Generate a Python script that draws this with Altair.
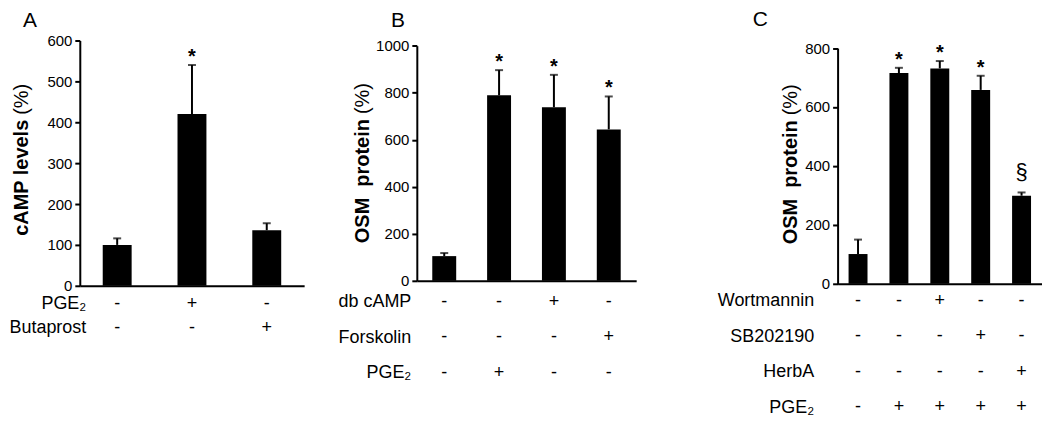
import altair as alt
import pandas as pd

FONT = "Liberation Sans"

# ---------------- data ----------------
# Panel A
a_cond = ["a1", "a2", "a3"]
a_mean = [100, 420, 136]
a_upper = [116, 540, 153]
a_mark = ["", "*", ""]
a_rows = ["PGE₂", "Butaprost"]
a_signs = [["-", "+", "-"], ["-", "-", "+"]]
a_ticks = [0, 100, 200, 300, 400, 500, 600]

# Panel B
b_cond = ["b1", "b2", "b3", "b4"]
b_mean = [105, 789, 738, 644]
b_upper = [118, 896, 876, 784]
b_mark = ["", "*", "*", "*"]
b_rows = ["db cAMP", "Forskolin", "PGE₂"]
b_signs = [["-", "-", "+", "-"], ["-", "-", "-", "+"], ["-", "+", "-", "-"]]
b_ticks = [0, 200, 400, 600, 800, 1000]

# Panel C
c_cond = ["c1", "c2", "c3", "c4", "c5"]
c_mean = [101, 715, 731, 658, 299]
c_upper = [150, 733, 756, 706, 310]
c_mark = ["", "*", "*", "*", "§"]
c_rows = ["Wortmannin", "SB202190", "HerbA", "PGE₂"]
c_signs = [["-", "-", "+", "-", "-"],
           ["-", "-", "-", "+", "-"],
           ["-", "-", "-", "-", "+"],
           ["-", "+", "+", "+", "+"]]
c_ticks = [0, 100, 200, 300, 400, 500, 600, 700, 800]

a_title = ["cAMP levels", "(%)"]
b_title = ["OSM\u00a0 protein", "(%)"]
c_title = ["OSM\u00a0 protein", "(%)"]

NOFRAME = alt.ViewBackground(stroke="transparent", strokeWidth=0)


def panel(letter, letter_dx, letter_offset, conds, means, uppers, marks, ticks,
          label_expr, ydomain, yrange, width, height, bar_size,
          titles, title_x, title_junction, rows, signs, row_range, row_pad):
    df = pd.DataFrame({"cond": conds, "mean": means, "upper": uppers, "mark": marks})
    base = alt.Chart(df)

    xs = alt.X("cond:N", sort=conds,
               scale=alt.Scale(type="band", paddingInner=0, paddingOuter=0),
               axis=alt.Axis(title=None, labels=False, ticks=False, domain=True,
                             domainColor="black", domainWidth=2, grid=False))
    xs2 = alt.X("cond:N", sort=conds)

    sc = dict(domain=ydomain, nice=False, zero=True)
    if yrange is not None:
        sc["range"] = yrange
    yaxis_kw = dict(title=None, values=ticks, format="d", tickSize=5, tickWidth=2,
                    tickColor="black", domainColor="black", domainWidth=2,
                    labelPadding=3, labelFlush=False, labelOverlap=False,
                    labelFontSize=15, labelColor="black", labelFont=FONT, grid=False)
    if label_expr:
        yaxis_kw["labelExpr"] = label_expr
    ys = alt.Y("mean:Q", scale=alt.Scale(**sc), axis=alt.Axis(**yaxis_kw))

    bars = base.mark_bar(color="black", size=bar_size).encode(x=xs, y=ys)
    rule = base.mark_rule(color="black", strokeWidth=2).encode(
        x=xs2, y="mean:Q", y2="upper:Q")
    cap = base.mark_tick(color="black", thickness=2, size=8).encode(
        x=xs2, y="upper:Q")
    star = base.transform_filter(alt.datum.mark == "*").mark_text(
        fontSize=20, fontWeight="bold", font=FONT, color="black",
        baseline="alphabetic", dy=-2).encode(x=xs2, y="upper:Q", text="mark:N")
    layers = [bars, rule, cap, star]
    if "§" in marks:
        sect = base.transform_filter(alt.datum.mark == "§").mark_text(
            fontSize=22, font=FONT, color="black", baseline="alphabetic",
            dy=-13).encode(x=xs2, y="upper:Q", text="mark:N")
        layers.append(sect)

    tdf = pd.DataFrame({"t": [titles[0]]})
    pdf = pd.DataFrame({"t": [titles[1]]})
    t_bold = alt.Chart(tdf).mark_text(angle=270, align="right", baseline="middle",
                                      fontSize=20, fontWeight="bold", font=FONT,
                                      color="black").encode(
        x=alt.value(title_x), y=alt.value(title_junction), text="t:N")
    t_norm = alt.Chart(pdf).mark_text(angle=270, align="left", baseline="middle",
                                      fontSize=20, font=FONT, color="black").encode(
        x=alt.value(title_x), y=alt.value(title_junction - 5), text="t:N")
    layers += [t_bold, t_norm]
    inner = alt.layer(*layers)

    recs = []
    for r, srow in zip(rows, signs):
        for c, s in zip(conds, srow):
            recs.append({"row": r, "cond": c, "sign": s})
    tab = alt.Chart(pd.DataFrame(recs)).mark_text(
        fontSize=18, font=FONT, color="black", baseline="middle").encode(
        x=xs2,
        y=alt.Y("row:N", sort=rows,
                scale=alt.Scale(type="point", range=row_range, padding=0),
                axis=alt.Axis(orient="left", title=None, domain=False, ticks=False,
                              grid=False, labelFontSize=18, labelFont=FONT,
                              labelColor="black", labelPadding=row_pad,
                              labelLimit=0)),
        text="sign:N")

    return alt.layer(inner, tab).resolve_scale(y="independent").resolve_axis(
        y="independent").properties(
        width=width, height=height, view=NOFRAME,
        title=alt.TitleParams(letter, anchor="start", frame="group", dx=letter_dx,
                              offset=letter_offset, fontSize=21,
                              fontWeight="normal", font=FONT, color="black"))


def spacer(w):
    return alt.Chart(pd.DataFrame({"v": [0]})).mark_point(opacity=0, size=0).encode(
        x=alt.value(0), y=alt.value(0)).properties(width=w, height=10, view=NOFRAME)


pA = panel("A", -57, 3, a_cond, a_mean, a_upper, a_mark, a_ticks, None,
           [0, 600], None, 225, 246, 29, a_title, -58, 79.5,
           a_rows, a_signs, [264, 288], -6)
pB = panel("B", -26, 8.2, b_cond, b_mean, b_upper, b_mark, b_ticks, None,
           [0, 1000], [241, 5.2], 220, 241, 24, b_title, -53.5, 78.8,
           b_rows, b_signs, [262, 333.4], 6)
pC = panel("C", -85, 10.6, c_cond, c_mean, c_upper, c_mark, c_ticks,
           "datum.value % 200 == 0 ? datum.label : ''",
           [0, 800], [244, 7.6], 205, 244, 19, c_title, -46.5, 80,
           c_rows, c_signs, [261, 368], 24)

chart = alt.hconcat(pA, spacer(111), pB, spacer(200), pC, spacing=1,
                    bounds="flush").properties(
    padding=0).configure_view(stroke="transparent", strokeWidth=0).configure(font=FONT)

chart.save("out.html", embed_options={"renderer": "svg", "actions": False})
